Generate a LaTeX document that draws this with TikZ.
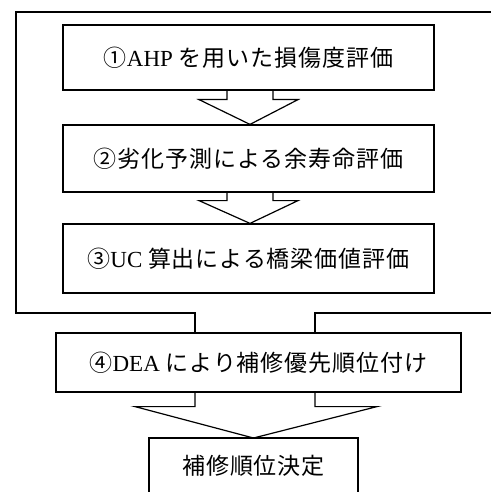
\documentclass[tikz,border=0pt]{standalone}
\usepackage{fontspec}
\setmainfont{Liberation Serif}
\newfontfamily\jp[LetterSpace=4]{Noto Sans CJK JP}
\usetikzlibrary{calc}
\tikzset{
  x=1pt, y=-1pt,
  line/.style={line width=1.2pt, line join=miter},
  stepbox/.style={line, draw, rectangle, inner sep=0pt, font=\fontsize{23}{26}\selectfont},
  label/.style={inner sep=0pt, font=\fontsize{23}{26}\selectfont},
}
\begin{document}
\begin{tikzpicture}
\useasboundingbox (0,0) rectangle (490,492);
\node[stepbox, minimum width=371pt, minimum height=65pt] (b1) at (248.5,57.5) {\jp ①\addfontfeatures{LetterSpace=0}\rmfamily AHP \jp を用いた損傷度評価};
\node[stepbox, minimum width=371pt, minimum height=67pt] (b2) at (248.5,158.5) {\jp ②劣化予測による余寿命評価};
\node[stepbox, minimum width=371pt, minimum height=69pt] (b3) at (248.5,258.5) {\jp ③\rmfamily UC \jp 算出による橋梁価値評価};
\node[stepbox, minimum width=405pt, minimum height=59pt] (b4) at (258.5,362.5) {\jp ④\rmfamily DEA \jp により補修優先順位付け};
\node[label] (b5) at (253.5,466) {\jp 補修順位決定};
% open box of the result
\draw[line] (149,495) -- (149,438) coordinate (b5tl) -- (358,438) -- (358,495);
\coordinate (b5n) at (253.5,438);
% arrow 1 -> 2
\draw[line] ($(b1.south)+(-21.5,0)$) -- ++(0,9) -- ++(-28,0) -- ($(b2.north)+(1.5,0)$) -- ($(b1.south)+(49.5,9)$) -- ++(-25,0) -- ++(0,-9);
% arrow 2 -> 3
\draw[line] ($(b2.south)+(-21.5,0)$) -- ++(0,8) -- ++(-28,0) -- ($(b3.north)+(1.5,0)$) -- ($(b2.south)+(49.5,8)$) -- ++(-25,0) -- ++(0,-8);
% outer frame feeding box 4
\coordinate (fr1) at (495,12);
\coordinate (fr2) at (16,12);
\coordinate (fr3) at (16,313);
\coordinate (fr4) at (495,313);
\draw[line] (fr1) -- (fr2) -- (fr3) -- (195,313) -- ($(b4.north)+(-63.5,0)$);
\draw[line] (fr4) -- (315,313) -- ($(b4.north)+(56.5,0)$);
% arrow 4 -> result
\draw[line] ($(b4.south)+(-63.5,0)$) -- ++(0,14) -- ++(-60,0) -- (b5n) -- ($(b4.south)+(118.5,14)$) -- ++(-62,0) -- ++(0,-14);
\end{tikzpicture}
\end{document}
